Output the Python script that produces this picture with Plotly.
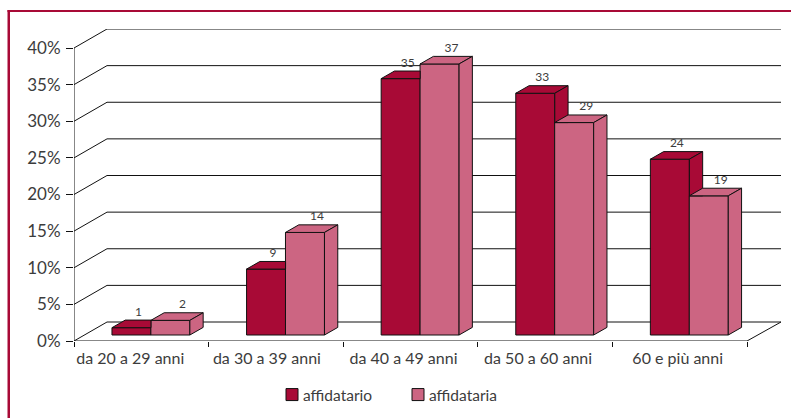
import plotly.graph_objects as go

categories = ["da 20 a 29 anni", "da 30 a 39 anni", "da 40 a 49 anni", "da 50 a 60 anni", "60 e più anni"]
affidatario = [1, 9, 35, 33, 24]
affidataria = [2, 14, 37, 29, 19]
y_ticks = [0, 5, 10, 15, 20, 25, 30, 35, 40]
label_shift_px = [-11, -9, -7, -7, -2]

W, H = 791, 418
L, R, T, B = 74, 781, 29, 341      # plot rectangle in px
CAT_PX = 134.6                     # px per category
PCT_PX = 7.325                     # px per percent
x_max = (R - L) / CAT_PX
y_max = (B - T) / PCT_PX

WALL_DX, WALL_DY = 33 / CAT_PX, 19 / PCT_PX
BAR_DX, BAR_DY = 13.3 / CAT_PX, 7.6 / PCT_PX
BASE = 6 / PCT_PX
BAR_W = 39 / CAT_PX
X1, X2 = 0.427, 0.716

DARK = "#a80a36"
LIGHT = "#cc6582"
INK = "#111111"
TEXT = "#3c3c3c"
FONT = "Lato"

fig = go.Figure()
pos = list(range(len(categories)))

fig.add_bar(x=[i + X1 for i in pos], y=affidatario, base=BASE, width=BAR_W, name="affidatario",
            marker=dict(color=DARK, line=dict(color=INK, width=1)), hoverinfo="skip")
fig.add_bar(x=[i + X2 for i in pos], y=affidataria, base=BASE, width=BAR_W, name="affidataria",
            marker=dict(color=LIGHT, line=dict(color=INK, width=1)), hoverinfo="skip")


def poly(fig, xs, ys, color):
    fig.add_scatter(x=xs, y=ys, mode="lines", fill="toself", fillcolor=color,
                    line=dict(color=INK, width=1), showlegend=False, hoverinfo="skip")


# first series: top and side, clipped where the second series hides them
tx, ty, sx, sy = [], [], [], []
for i, v1, v2 in zip(pos, affidatario, affidataria):
    xl, xr = i + X1 - BAR_W / 2, i + X1 + BAR_W / 2
    t = BASE + v1
    if v2 >= v1:
        tx += [xl, xr, xr, xl + BAR_DX, xl, None]
    else:
        tx += [xl, xr, xr + BAR_DX, xl + BAR_DX, xl, None]
        f = BASE + v2
        sx += [xr, xr, xr + BAR_DX, xr + BAR_DX, xr, None]
        sy += [f, t, t + BAR_DY, f, f, None]
    ty += [t, t, t + BAR_DY, t + BAR_DY, t, None]
poly(fig, tx, ty, DARK)
poly(fig, sx, sy, DARK)

# second series: top and side
tx, ty, sx, sy = [], [], [], []
for i, v2 in zip(pos, affidataria):
    xl, xr = i + X2 - BAR_W / 2, i + X2 + BAR_W / 2
    t = BASE + v2
    tx += [xl, xr, xr + BAR_DX, xl + BAR_DX, xl, None]
    ty += [t, t, t + BAR_DY, t + BAR_DY, t, None]
    sx += [xr, xr, xr + BAR_DX, xr + BAR_DX, xr, None]
    sy += [BASE, t, t + BAR_DY, BASE + BAR_DY, BASE, None]
poly(fig, tx, ty, LIGHT)
poly(fig, sx, sy, LIGHT)

# data labels
for vals, xc, shift in ((affidatario, X1, 7), (affidataria, X2, 12)):
    fig.add_scatter(x=[i + xc + shift / CAT_PX for i in pos],
                    y=[BASE + v + BAR_DY + 1.5 / PCT_PX for v in vals],
                    mode="text", text=[str(v) for v in vals], textposition="top center",
                    textfont=dict(family=FONT, size=12, color=TEXT),
                    showlegend=False, hoverinfo="skip")

# 3D walls
shapes = []
line = dict(color=INK, width=1)
for v in y_ticks:
    shapes.append(dict(type="path", layer="below", xref="x", yref="y", line=line,
                       path=f"M 0 {v} L {WALL_DX} {v + WALL_DY} L {x_max} {v + WALL_DY}"))
shapes.append(dict(type="line", layer="below", xref="x", yref="y", line=line, x0=0, x1=0, y0=0, y1=y_ticks[-1]))
shapes.append(dict(type="path", layer="below", xref="x", yref="y", line=line,
                   path=f"M 0 0 L {len(categories)} 0 L {x_max} {WALL_DY}"))
# page frame
frame = "#a80a36"
shapes.append(dict(type="rect", xref="paper", yref="paper", layer="below", line_width=0, fillcolor=frame,
                   x0=(7.5 - L) / (R - L), x1=(10 - L) / (R - L), y0=(B - H) / (B - T), y1=(B - 10) / (B - T)))
shapes.append(dict(type="rect", xref="paper", yref="paper", layer="below", line_width=0, fillcolor=frame,
                   x0=(7.5 - L) / (R - L), x1=(W - L) / (R - L), y0=(B - 12) / (B - T), y1=(B - 10) / (B - T)))

fig.update_layout(
    width=W, height=H, margin=dict(l=L, r=W - R, t=T, b=H - B, autoexpand=False),
    paper_bgcolor="white", plot_bgcolor="rgba(0,0,0,0)",
    barmode="overlay", shapes=shapes, hovermode=False,
    font=dict(family=FONT, size=16, color=TEXT),
    showlegend=True,
    legend=dict(orientation="h", x=(272 - L) / (R - L), xanchor="left", y=(B - 395) / (B - T), yanchor="middle",
                entrywidth=81, entrywidthmode="pixels", bgcolor="rgba(0,0,0,0)", font=dict(size=15.5, color=TEXT)),
    xaxis=dict(range=[0, x_max], showgrid=False, zeroline=False, showline=False,
               tickmode="array", tickvals=[i + 0.5 + s / CAT_PX for i, s in zip(pos, label_shift_px)],
               ticktext=categories, ticks="", ticklabelstandoff=6,
               tickfont=dict(size=16, color=TEXT),
               minor=dict(tickmode="array", tickvals=list(range(len(categories) + 1)),
                          ticks="outside", ticklen=5, tickcolor=INK, tickwidth=1, showgrid=False)),
    yaxis=dict(range=[0, y_max], showgrid=False, zeroline=False, showline=False,
               tickmode="array", tickvals=y_ticks, ticktext=[f"{v}%" for v in y_ticks],
               ticks="outside", ticklen=7, tickcolor=INK, tickwidth=1, ticklabelstandoff=2,
               tickfont=dict(size=17, color=TEXT)),
)

fig.write_html("out.html", config=dict(displayModeBar=False),
               post_script="document.body.style.margin='0';document.documentElement.style.overflow='hidden';"
                           "document.querySelectorAll('.legendtext').forEach(function(t){t.setAttribute('x',31);});")
